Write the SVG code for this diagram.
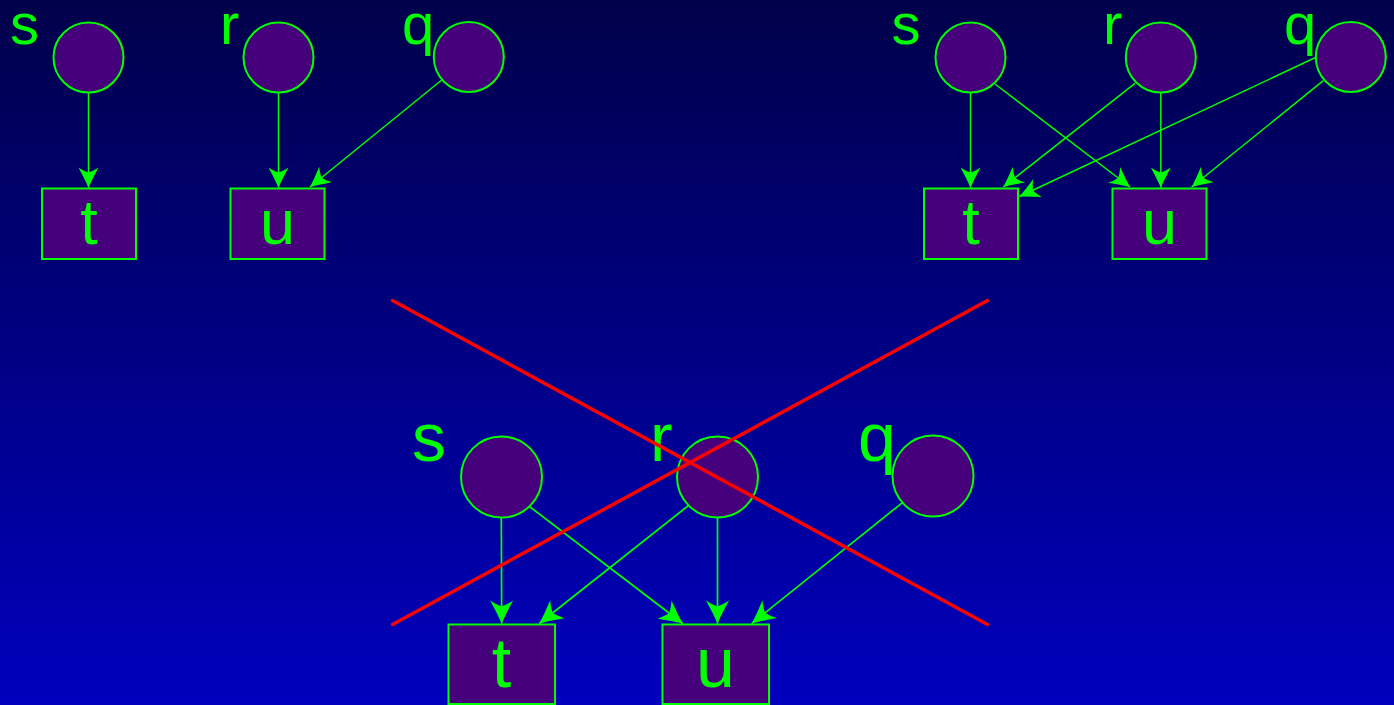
<svg xmlns="http://www.w3.org/2000/svg" width="1394" height="705" viewBox="0 0 1394 705">
  <defs>
    <linearGradient id="bg" x1="0" y1="0" x2="0" y2="1">
      <stop offset="0" stop-color="#00004A"/>
      <stop offset="1" stop-color="#0000BE"/>
    </linearGradient>
    <marker id="ah" markerUnits="userSpaceOnUse" markerWidth="20" markerHeight="20" refX="20" refY="10" orient="auto" overflow="visible">
      <path d="M20,10 Q11,6 0,0 Q4,6 5,10 Q4,14 0,20 Q11,14 20,10 Z" fill="#00FF00"/>
    </marker>
    <marker id="ahb" markerUnits="userSpaceOnUse" markerWidth="23" markerHeight="23" refX="23" refY="11.5" orient="auto" overflow="visible">
      <path d="M23,11.5 Q12.5,7 0,0 Q4.6,7 5.8,11.5 Q4.6,16 0,23 Q12.5,16 23,11.5 Z" fill="#00FF00"/>
    </marker>
  </defs>
  <style>
    .node { fill: #47007C; stroke: #00FF00; stroke-width: 2; }
    .edge { fill: none; stroke: #00FF00; stroke-width: 1.5; marker-end: url(#ah); }
    .edgeb { fill: none; stroke: #00FF00; stroke-width: 1.7; marker-end: url(#ahb); }
    .lbl { font-family: "Liberation Sans", Arial, sans-serif; fill: #00FF00; }
    .cross { stroke: #FF0000; stroke-width: 3.5; stroke-linecap: round; }
  </style>
  <rect x="0" y="0" width="1394" height="705" fill="url(#bg)"/>

  <!-- Top-left graph -->
  <g id="tl-s"><circle class="node" cx="88.5" cy="57.5" r="35"/><text class="lbl" x="10" y="44" font-size="58">s</text></g>
  <g id="tl-r"><circle class="node" cx="278.5" cy="57.5" r="35"/><text class="lbl" x="220" y="44" font-size="58">r</text></g>
  <g id="tl-q"><circle class="node" cx="468.8" cy="57" r="35"/><text class="lbl" x="402" y="44" font-size="58">q</text></g>
  <g id="tl-t"><rect class="node" x="42" y="188.5" width="94" height="70.5"/><text class="lbl" x="89" y="244" font-size="63" text-anchor="middle">t</text></g>
  <g id="tl-u"><rect class="node" x="230.5" y="188.5" width="94" height="70.5"/><text class="lbl" x="277.5" y="244" font-size="63" text-anchor="middle">u</text></g>

  <!-- Top-right graph -->
  <g id="tr-s"><circle class="node" cx="970.5" cy="57.5" r="35"/><text class="lbl" x="891.5" y="44" font-size="58">s</text></g>
  <g id="tr-r"><circle class="node" cx="1160.8" cy="57.5" r="35"/><text class="lbl" x="1103" y="44" font-size="58">r</text></g>
  <g id="tr-q"><circle class="node" cx="1350.8" cy="57" r="35"/><text class="lbl" x="1284" y="44" font-size="58">q</text></g>
  <g id="tr-t"><rect class="node" x="924" y="188.5" width="94" height="70.5"/><text class="lbl" x="971" y="244" font-size="63" text-anchor="middle">t</text></g>
  <g id="tr-u"><rect class="node" x="1112.5" y="188.5" width="94" height="70.5"/><text class="lbl" x="1159.5" y="244" font-size="63" text-anchor="middle">u</text></g>

  <!-- Bottom graph -->
  <g id="b-s"><circle class="node" cx="501.5" cy="477" r="40.5"/><text class="lbl" x="412" y="461" font-size="68">s</text></g>
  <g id="b-r"><circle class="node" cx="717.5" cy="477" r="40.5"/><text class="lbl" x="650" y="461" font-size="68">r</text></g>
  <g id="b-q"><circle class="node" cx="933" cy="476" r="40.5"/><text class="lbl" x="858" y="461" font-size="68">q</text></g>
  <g id="b-t"><rect class="node" x="448.5" y="624.5" width="106.5" height="79.5"/><text class="lbl" x="501.5" y="687" font-size="70" text-anchor="middle">t</text></g>
  <g id="b-u"><rect class="node" x="662.5" y="624.5" width="106.5" height="79.5"/><text class="lbl" x="715.5" y="687" font-size="70" text-anchor="middle">u</text></g>

  <g id="connectors">
    <line class="edge" x1="88.5" y1="92.5" x2="88.5" y2="187.5"/>
    <line class="edge" x1="278.5" y1="92.5" x2="278.5" y2="187.5"/>
    <line class="edge" x1="441.7" y1="80" x2="310" y2="187"/>

    <line class="edge" x1="970.5" y1="92.5" x2="970.5" y2="187.5"/>
    <line class="edge" x1="995" y1="84" x2="1130" y2="187"/>
    <line class="edge" x1="1135" y1="83.3" x2="1003.3" y2="187"/>
    <line class="edge" x1="1160.8" y1="92.5" x2="1160.8" y2="187.5"/>
    <line class="edge" x1="1316" y1="57.3" x2="1019.5" y2="196.5"/>
    <line class="edge" x1="1323.3" y1="80.7" x2="1191.7" y2="187"/>

    <line class="edgeb" x1="501.3" y1="517.5" x2="501.7" y2="623.5"/>
    <line class="edgeb" x1="529.7" y1="506.7" x2="682.8" y2="623.5"/>
    <line class="edgeb" x1="688.5" y1="505.5" x2="539.3" y2="623.5"/>
    <line class="edgeb" x1="717.5" y1="517.5" x2="717.5" y2="623.5"/>
    <line class="edgeb" x1="902.8" y1="502.3" x2="751.7" y2="623.5"/>
  </g>

  <g id="cross">
    <line class="cross" x1="392.5" y1="300.5" x2="987.5" y2="624.5"/>
    <line class="cross" x1="392.5" y1="624.5" x2="987.5" y2="300.5"/>
  </g>
</svg>
